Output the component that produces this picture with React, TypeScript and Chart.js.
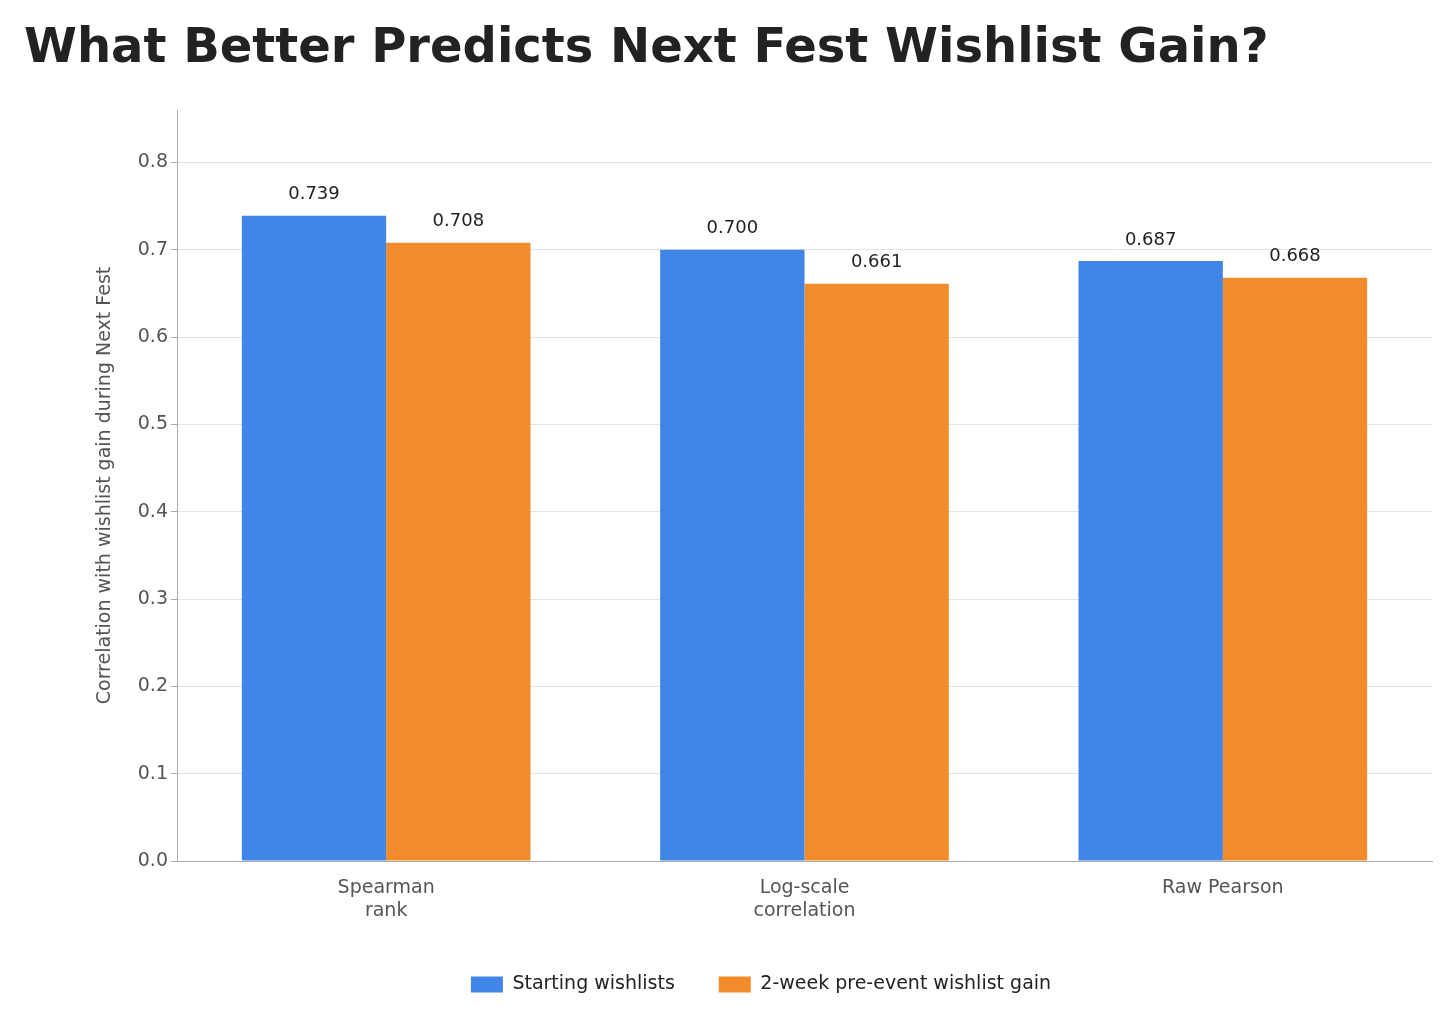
import React, { useEffect, useRef } from "react";
import { Chart, registerables } from "chart.js";
Chart.register(...registerables);

const categories = [["Spearman", "rank"], ["Log-scale", "correlation"], "Raw Pearson"];
const startingWishlists = [0.739, 0.7, 0.687];
const preEventGain = [0.708, 0.661, 0.668];
const yTicks = [0, 0.1, 0.2, 0.3, 0.4, 0.5, 0.6, 0.7, 0.8];
const title = "What Better Predicts Next Fest Wishlist Gain?";
const FONT = "'DejaVu Sans', sans-serif";

export default function App() {
  const ref = useRef<HTMLCanvasElement>(null);
  useEffect(() => {
    document.body.style.margin = "0";
    const labelPlugin = {
      id: "labels",
      afterDatasetsDraw(chart: any) {
        const ctx = chart.ctx;
        ctx.save();
        ctx.font = `18px ${FONT}`;
        ctx.fillStyle = "#222";
        ctx.textAlign = "center";
        ctx.textBaseline = "bottom";
        chart.data.datasets.forEach((ds: any, i: number) => {
          chart.getDatasetMeta(i).data.forEach((bar: any, j: number) => {
            ctx.fillText(ds.data[j].toFixed(3), bar.x, bar.y - 12);
          });
        });
        ctx.font = `bold 48px ${FONT}`;
        ctx.fillStyle = "#222";
        ctx.textAlign = "left";
        ctx.textBaseline = "alphabetic";
        ctx.fillText(title, 24, 62);
        ctx.restore();
      },
    };
    const chart = new Chart(ref.current!, {
      type: "bar",
      data: {
        labels: categories as any,
        datasets: [
          { label: "Starting wishlists", data: startingWishlists, backgroundColor: "#4285e8" },
          { label: "2-week pre-event wishlist gain", data: preEventGain, backgroundColor: "#f28c2a" },
        ],
      },
      options: {
        animation: false,
        responsive: false,
        layout: { padding: { left: 90, top: 110, right: 24, bottom: 20 } },
        plugins: {
          legend: {
            position: "bottom",
            labels: { boxWidth: 32, boxHeight: 16, padding: 44, color: "#222", font: { size: 19, family: FONT } },
          },
          tooltip: { enabled: false },
        },
        datasets: { bar: { barPercentage: 1, categoryPercentage: 0.69 } },
        scales: {
          x: {
            grid: { display: false },
            border: { color: "#aaa" },
            ticks: { color: "#555", font: { size: 19, family: FONT }, padding: 8 },
            afterFit: (s: any) => { s.height = 70; },
          },
          y: {
            min: 0,
            max: 0.86,
            afterBuildTicks: (s: any) => { s.ticks = yTicks.map((v) => ({ value: v })); },
            grid: { color: "#e3e3e3", drawTicks: true, tickColor: "#aaa", tickLength: 6 },
            border: { color: "#aaa" },
            ticks: { color: "#555", font: { size: 19, family: FONT }, callback: (v: any) => Number(v).toFixed(1) },
            title: { display: true, text: "Correlation with wishlist gain during Next Fest", color: "#555", font: { size: 19, family: FONT } },
            afterFit: (s: any) => { s.width = 87; },
          },
        },
      },
      plugins: [labelPlugin],
    });
    return () => chart.destroy();
  }, []);
  return <canvas ref={ref} width={1456} height={1024} style={{ display: "block" }} />;
}
